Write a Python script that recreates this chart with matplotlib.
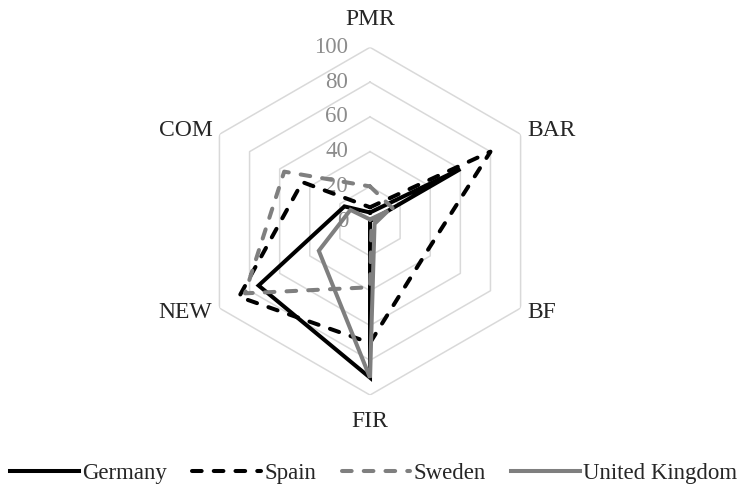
import numpy as np
import matplotlib
matplotlib.use("Agg")
import matplotlib.pyplot as plt
from matplotlib.transforms import offset_copy

plt.rcParams['font.family'] = ['Liberation Serif', 'DejaVu Serif']

# данные
categories = ['PMR', 'BAR', 'BF', 'FIR', 'NEW', 'COM']
germany = [5, 60, 0, 90, 74, 17]
spain = [8, 80, 37, 70, 87, 45]
sweden = [20, 15, 1, 38, 83, 57]
uk = [1, 12, 3, 90, 34, 13]
ticks = [0, 20, 40, 60, 80, 100]

series = [
    ("Germany", germany, 'black', '-'),
    ("Spain", spain, 'black', '--'),
    ("Sweden", sweden, '#7f7f7f', '--'),
    ("United Kingdom", uk, '#7f7f7f', '-'),
]

fig = plt.figure(figsize=(7.43, 4.84), dpi=100)
ax = fig.add_axes([0.264, 0.1835, 0.468, 0.719], projection='polar')
ax.set_theta_zero_location('N')
ax.set_theta_direction(-1)
ax.set_ylim(0, 100)
ax.grid(False)
ax.spines['polar'].set_visible(False)
ax.set_xticks([])
ax.set_yticks([])
ax.patch.set_alpha(0)

angles = np.linspace(0, 2 * np.pi, len(categories), endpoint=False)
closed = np.append(angles, angles[0])

# шестиугольная сетка
for t in ticks[1:]:
    ax.plot(closed, [t] * len(closed), color='#d9d9d9', lw=1.1, zorder=1)

# подписи шкалы
tick_tr = offset_copy(ax.transData, fig, x=-22, y=0, units='dots')
for t in ticks:
    ax.text(0, t, str(t), transform=tick_tr, ha='right', va='center',
            fontsize=16.5, color='#8c8c8c', zorder=2)

# подписи осей
label_layout = [
    (0, 17, 'center', 'bottom'),
    (7, 4, 'left', 'center'),
    (7, -4, 'left', 'center'),
    (0, -16, 'center', 'top'),
    (-7, -4, 'right', 'center'),
    (-7, 4, 'right', 'center'),
]
for ang, name, (dx, dy, ha, va) in zip(angles, categories, label_layout):
    ax.annotate(name, xy=(ang, 100), xytext=(dx, dy), textcoords='offset pixels',
                ha=ha, va=va, fontsize=17, color='#262626', annotation_clip=False)

handles = []
for name, vals, color, ls in series:
    v = np.append(vals, vals[0])
    line, = ax.plot(closed, v, color=color, lw=2.9, zorder=3, clip_on=False,
                    solid_joinstyle='miter')
    if ls == '--':
        line.set_dashes((2.4, 3.0))
        line.set_dash_capstyle('round')
    handles.append(line)

fig.legend(handles, [s[0] for s in series], loc='center', bbox_to_anchor=(0.503, 11 / 484),
           ncol=4, frameon=False, fontsize=16.5, handlelength=3.0, handletextpad=0.15,
           columnspacing=1.1, labelcolor='#262626')

fig.savefig('out.png', dpi=100)
